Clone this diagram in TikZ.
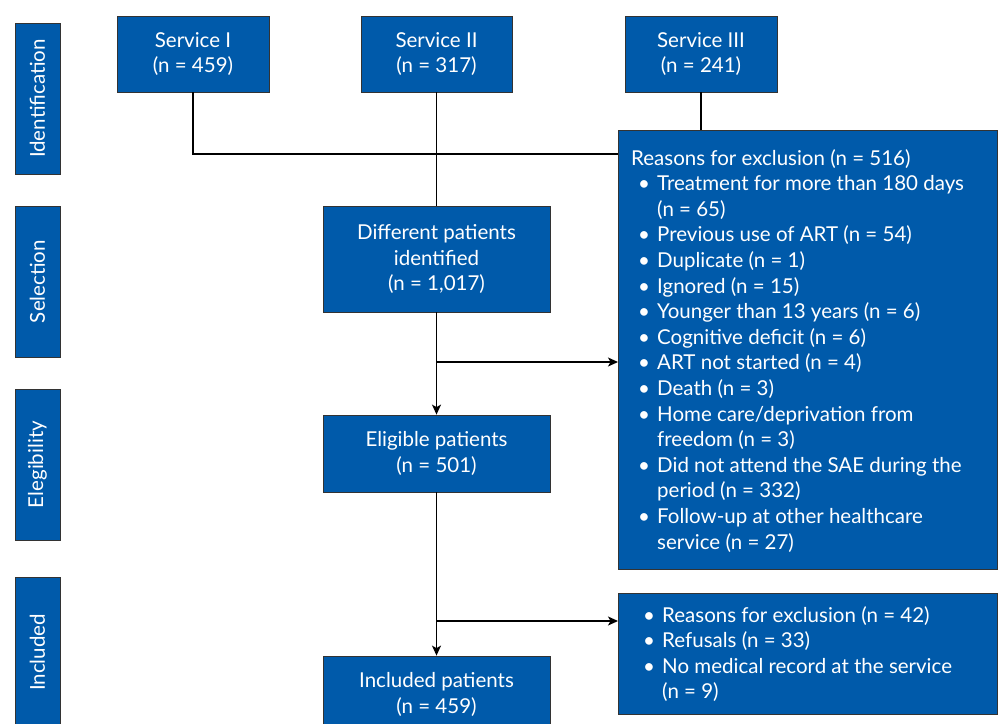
\documentclass[tikz,border=0pt]{standalone}
\usepackage{fontspec}
\setmainfont{Lato}
\usetikzlibrary{arrows.meta}
\definecolor{boxblue}{RGB}{0,90,170}
\newcommand{\bl}{\hspace*{7pt}\makebox[19pt][l]{\textbullet}}
\newcommand{\cl}{\hspace*{26pt}}
\begin{document}
\begin{tikzpicture}[x=1pt,y=-1pt,
  bx/.style={draw=black!80, line width=0.8pt, fill=boxblue, text=white, inner sep=0pt},
  conn/.style={line width=1.3pt, black},
  arr/.style={conn, -{Stealth[length=10pt,width=9pt,inset=2.5pt]}},
  txt/.style={font=\fontsize{20.5}{25.6}\selectfont, text=white, align=center},
  side/.style={bx, txt, rotate=90, minimum width=151pt, minimum height=45pt}
]
\useasboundingbox (0,0) rectangle (1001,723);
\clip (0,0) rectangle (1001,723);

% side labels
\node[side] (sid) at (37.5,98.5) {Identification};
\node[side] (ssel) at (37.5,281.5) {Selection};
\node[side] (sel) at (37.5,464.5) {Elegibility};
\node[side] (sinc) at (37.5,652.5) {Included};

% services
\node[bx, txt, minimum width=152pt, minimum height=76pt] (s1) at (193,54) {Service I\\(n = 459)};
\node[bx, txt, minimum width=151pt, minimum height=76pt] (s2) at (436.5,54) {Service II\\(n = 317)};
\node[bx, txt, minimum width=152pt, minimum height=76pt] (s3) at (701,54) {Service III\\(n = 241)};

% main flow
\node[bx, txt, minimum width=227pt, minimum height=106pt] (dp) at (436.5,259) {Different patients\\identified\\(n = 1,017)};
\node[bx, txt, minimum width=227pt, minimum height=77pt] (el) at (436.5,453.5) {Eligible patients\\(n = 501)};
\node[bx, txt, minimum width=227pt, minimum height=77pt] (inc) at (436.5,694.5) {Included patients\\(n = 459)};

% exclusion boxes
\node[bx, minimum width=379pt, minimum height=439pt, anchor=north west] (ex1) at (618,130) {};
\node[txt, align=left, anchor=north west, inner sep=0pt] (ex1t) at (631,149) {%
Reasons for exclusion (n = 516)\\
\bl Treatment for more than 180 days\\
\cl (n = 65)\\
\bl Previous use of ART (n = 54)\\
\bl Duplicate (n = 1)\\
\bl Ignored (n = 15)\\
\bl Younger than 13 years (n = 6)\\
\bl Cognitive deficit (n = 6)\\
\bl ART not started (n = 4)\\
\bl Death (n = 3)\\
\bl Home care/deprivation from\\
\cl freedom (n = 3)\\
\bl Did not attend the SAE during the\\
\cl period (n = 332)\\
\bl Follow-up at other healthcare\\
\cl service (n = 27)};

\node[bx, minimum width=379pt, minimum height=121pt, anchor=north west] (ex2) at (618,593) {};
\node[txt, align=left, anchor=north west, inner sep=0pt] (ex2t) at (636,606) {%
\bl Reasons for exclusion (n = 42)\\
\bl Refusals (n = 33)\\
\bl No medical record at the service\\
\cl (n = 9)};

% connectors
\coordinate (j1) at (437,154);
\coordinate (j2) at (437,362);
\coordinate (j3) at (437,621);
\draw[conn] (s1.south) |- (ex1.west |- j1);
\draw[conn] (s2.south) -- (dp.north);
\draw[conn] (s3.south) -- (s3.south |- ex1.north);
\draw[arr] (dp.south) -- (el.north);
\draw[arr] (j2) -- (j2 -| ex1.west);
\draw[arr] (el.south) -- (inc.north);
\draw[arr] (j3) -- (j3 -| ex2.west);
\end{tikzpicture}
\end{document}
